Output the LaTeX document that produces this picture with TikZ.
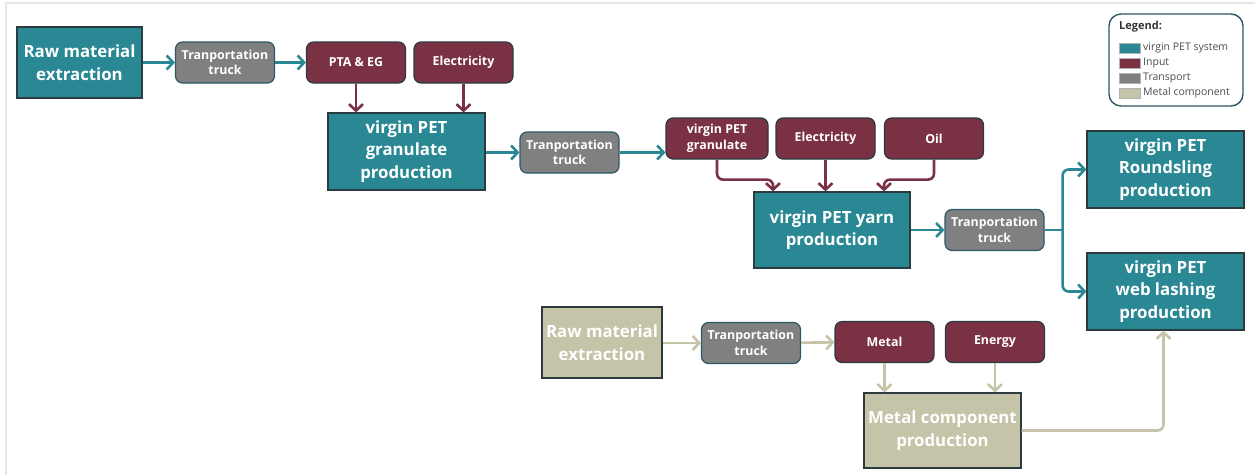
\documentclass[tikz,border=0pt]{standalone}
\usepackage{fontspec}
\setmainfont{Open Sans}
\usepackage{tikz}
\usetikzlibrary{arrows.meta}

\definecolor{petteal}{HTML}{2A8894}
\definecolor{inputred}{HTML}{7B3144}
\definecolor{truckgray}{HTML}{808080}
\definecolor{metalbeige}{HTML}{C5C3A8}
\definecolor{boxedge}{HTML}{2B3B40}
\definecolor{truckedge}{HTML}{2E5866}
\definecolor{frameline}{HTML}{E6E6E6}

\tikzset{
  mainbox/.style={draw=boxedge, fill=petteal, text=white, line width=1.2pt,
    font=\bfseries\fontsize{16.8}{22.5}\selectfont, align=center, inner sep=0pt},
  metalbox/.style={mainbox, fill=metalbeige},
  inbox/.style={draw=boxedge, fill=inputred, text=white, line width=1.2pt,
    rounded corners=7pt, minimum width=99pt, minimum height=41pt,
    font=\bfseries\fontsize{12.4}{15.5}\selectfont, align=center, inner sep=0pt},
  truckbox/.style={inbox, draw=truckedge, fill=truckgray},
  petarrow/.style={draw=petteal, line width=2.6pt, rounded corners=6pt,
    -{Straight Barb[length=6.5pt,width=14pt,line width=2.6pt]}},
  inarrow/.style={petarrow, draw=inputred},
  metalarrow/.style={petarrow, draw=metalbeige},
  swatch/.style={draw=gray!60, line width=0.4pt, minimum width=21pt, minimum height=10pt, inner sep=0pt},
  legtext/.style={anchor=west, text=black!70, font=\fontsize{10.5}{12}\selectfont, inner sep=0pt}
}

\begin{document}
\begin{tikzpicture}[x=1pt, y=-1pt]
  \useasboundingbox (0,0) rectangle (1255,475);
  % frame
  \draw[frameline, line width=2pt] (6,475) -- (6,3) -- (1255,3);

  % virgin PET chain
  \node[mainbox, minimum width=125pt, minimum height=71pt] (rawpet) at (79.5,62.5) {Raw material\\extraction};
  \node[truckbox] (truckA) at (225,62.5) {Tranportation\\truck};
  \node[inbox] (ptaeg) at (356,62.5) {PTA \& EG};
  \node[inbox] (elecA) at (463.5,62.5) {Electricity};
  \node[mainbox, minimum width=157pt, minimum height=77pt] (granprod) at (406.5,151.5) {virgin PET\\granulate\\production};
  \node[truckbox] (truckB) at (569.5,152.5) {Tranportation\\truck};
  \node[inbox, minimum width=102pt] (granin) at (717,138.5) {virgin PET\\granulate};
  \node[inbox] (elecB) at (825.5,138.5) {Electricity};
  \node[inbox] (oil) at (934,138.5) {Oil};
  \node[mainbox, minimum width=156pt, minimum height=76pt] (yarnprod) at (832,230) {virgin PET yarn\\production};
  \node[truckbox] (truckC) at (994.5,230) {Tranportation\\truck};
  \node[mainbox, minimum width=157pt, minimum height=77pt] (roundsling) at (1165.5,169.5) {virgin PET\\Roundsling\\production};
  \node[mainbox, minimum width=157pt, minimum height=77pt] (weblash) at (1165.5,291.5) {virgin PET\\web lashing\\production};

  % metal component chain
  \node[metalbox, minimum width=120pt, minimum height=71pt] (rawmet) at (602,342.5) {Raw material\\extraction};
  \node[truckbox] (truckD) at (751,343) {Tranportation\\truck};
  \node[inbox] (metal) at (884.5,342) {Metal};
  \node[inbox] (energy) at (995,342) {Energy};
  \node[metalbox, minimum width=157pt, minimum height=75pt] (metcomp) at (942.5,430.5) {Metal component\\production};

  % connectors
  \draw[petarrow] (rawpet) -- (truckA);
  \draw[petarrow] (truckA) -- (ptaeg);
  \draw[inarrow] (ptaeg.south) -- (ptaeg.south |- granprod.north);
  \draw[inarrow] (elecA.south) -- (elecA.south |- granprod.north);
  \draw[petarrow] (granprod.east |- truckB) -- (truckB);
  \draw[petarrow] (truckB.east) -- (truckB.east -| granin.west);
  \draw[inarrow] (granin.south) -- ++(0,20) -| ([xshift=-59pt]yarnprod.north);
  \draw[inarrow] (elecB.south) -- (elecB.south |- yarnprod.north);
  \draw[inarrow] (oil.south) -- ++(0,20) -| ([xshift=52pt]yarnprod.north);
  \draw[petarrow] (yarnprod) -- (truckC);
  \draw[petarrow, -] (truckC.east) -- ++(18,0) coordinate (split);
  \draw[petarrow] (split) |- (roundsling.west);
  \draw[petarrow] (split) |- (weblash.west);

  \draw[metalarrow] (rawmet.east |- truckD) -- (truckD);
  \draw[metalarrow] (truckD) -- (metal);
  \draw[metalarrow] (metal.south) -- (metal.south |- metcomp.north);
  \draw[metalarrow] (energy.south) -- (energy.south |- metcomp.north);
  \draw[metalarrow] (metcomp.east) -| ([xshift=-2pt]weblash.south);

  % legend
  \node[draw=truckedge, line width=1.4pt, rounded corners=12pt, minimum width=134pt, minimum height=92pt] (legend) at (1176,60) {};
  \node[anchor=west, font=\bfseries\fontsize{11}{12}\selectfont, text=black!80, inner sep=0pt] (legtitle) at (1119,27) {Legend:};
  \node[swatch, fill=petteal] (swpet) at (1130,48) {};
  \node[legtext] at (1143,48) {virgin PET system};
  \node[swatch, fill=inputred] (swin) at (1130,63) {};
  \node[legtext] at (1143,63) {Input};
  \node[swatch, fill=truckgray] (swtruck) at (1130,78) {};
  \node[legtext] at (1143,78) {Transport};
  \node[swatch, fill=metalbeige] (swmet) at (1130,93) {};
  \node[legtext] at (1143,93) {Metal component};
\end{tikzpicture}
\end{document}
